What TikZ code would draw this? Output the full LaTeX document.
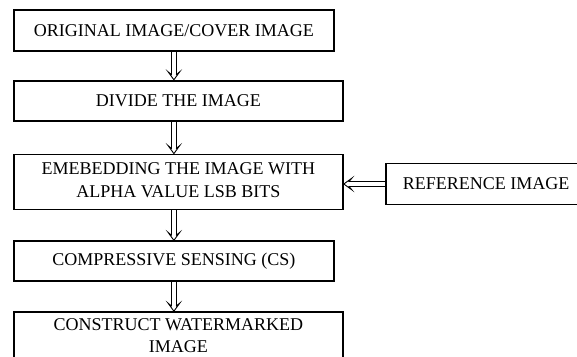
\documentclass[tikz,border=0pt]{standalone}
\usepackage{fontspec}
\setmainfont{Liberation Serif}
\usetikzlibrary{positioning}

% hollow double arrows, drawn line by line
\newcommand{\dnarrow}[2]{%
  \draw[shaft] ([xshift=-2.2pt]#1) -- ([xshift=-2.2pt,yshift=5pt]#2);
  \draw[shaft] ([xshift=2.2pt]#1) -- ([xshift=2.2pt,yshift=5pt]#2);
  \draw[shaft] ([xshift=-2.2pt,yshift=5pt]#2) -- ([xshift=-5.8pt,yshift=8pt]#2) -- (#2)
    -- ([xshift=5.8pt,yshift=8pt]#2) -- ([xshift=2.2pt,yshift=5pt]#2);}
\newcommand{\ltarrow}[2]{%
  \draw[shaft] ([yshift=-2.2pt]#1) -- ([yshift=-2.2pt,xshift=5pt]#2);
  \draw[shaft] ([yshift=2.2pt]#1) -- ([yshift=2.2pt,xshift=5pt]#2);
  \draw[shaft] ([yshift=-2.2pt,xshift=5pt]#2) -- ([yshift=-5.8pt,xshift=8pt]#2) -- (#2)
    -- ([yshift=5.8pt,xshift=8pt]#2) -- ([yshift=2.2pt,xshift=5pt]#2);}

\begin{document}
\begin{tikzpicture}[
  box/.style={draw, line width=1.8pt, inner sep=0pt, align=center, font=\fontsize{18}{22.5}\selectfont},
  shaft/.style={line width=0.9pt, line join=miter}]
\useasboundingbox (0,0) rectangle (577pt,-356pt);
\node[box, minimum width=320pt, minimum height=41pt, anchor=north west] (orig) at (13pt,-9pt) {ORIGINAL IMAGE/COVER IMAGE};
\node[box, minimum width=329pt, minimum height=40pt, below=28pt of orig.south west, anchor=north west] (divide) {DIVIDE THE IMAGE};
\node[box, minimum width=329pt, minimum height=55pt, text depth=4pt, below=32pt of divide.south west, anchor=north west] (embed) {EMEBEDDING THE IMAGE WITH\\ALPHA VALUE LSB BITS};
\node[box, minimum width=201pt, minimum height=41pt, right=41pt of embed.east, anchor=west, yshift=-2pt] (ref) {REFERENCE IMAGE};
\node[box, minimum width=320pt, minimum height=40pt, below=30pt of embed.south west, anchor=north west] (cs) {COMPRESSIVE SENSING (CS)};
\node[box, minimum width=329pt, minimum height=62pt, text depth=15pt, below=29pt of cs.south west, anchor=north west] (constr) {CONSTRUCT WATERMARKED\\IMAGE};
\coordinate (d1) at (orig.south |- divide.north);
\coordinate (d2s) at (orig.south |- divide.south);
\coordinate (d2) at (orig.south |- embed.north);
\coordinate (d3s) at (orig.south |- embed.south);
\coordinate (d3) at (orig.south |- cs.north);
\coordinate (d4) at (cs.south |- constr.north);
\coordinate (r1) at (ref.west -| embed.east);
\dnarrow{orig.south}{d1}
\dnarrow{d2s}{d2}
\dnarrow{d3s}{d3}
\dnarrow{cs.south}{d4}
\ltarrow{ref.west}{r1}
\end{tikzpicture}
\end{document}
